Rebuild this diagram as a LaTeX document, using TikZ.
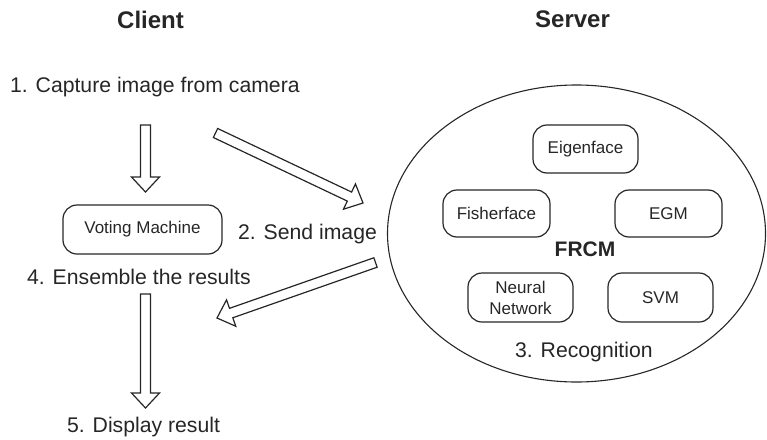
\documentclass[tikz,border=0pt]{standalone}
\usepackage{fontspec}
\setmainfont{Liberation Sans}
\usetikzlibrary{calc,shapes.geometric}
\definecolor{ink}{gray}{0.15}
\tikzset{
  lbl/.style={anchor=base west, inner sep=0pt, text=ink, font=\fontsize{21.2}{25}\selectfont},
  hdr/.style={anchor=base west, inner sep=0pt, text=ink, font=\fontsize{24}{28}\selectfont\bfseries},
  rbox/.style={draw=ink, line width=1.2pt, rounded corners=14pt, inner sep=0pt, align=center,
    text=ink, font=\fontsize{17}{21}\selectfont},
  blk/.style={draw=ink, line width=1.2pt, fill=white, line join=miter,
    to path={let \p1=(\tikztostart), \p2=(\tikztotarget),
      \n1={atan2(\y2-\y1,\x2-\x1)}, \p3=($(\p2)!15pt!(\p1)$) in
      ($(\p1)+(\n1+90:5pt)$) -- ($(\p3)+(\n1+90:5pt)$) -- ($(\p3)+(\n1+90:14pt)$)
      -- (\p2) -- ($(\p3)+(\n1-90:14pt)$) -- ($(\p3)+(\n1-90:5pt)$)
      -- ($(\p1)+(\n1-90:5pt)$) -- cycle}}
}
\begin{document}
\begin{tikzpicture}[x=1pt,y=-1pt]
\useasboundingbox (0,0) rectangle (767,439);
% headers
\node[hdr] (client) at (117,28) {Client};
\node[hdr] (server) at (535,27) {Server};
% client side labels
\node[lbl] (capture) at (10,92) {1. Capture image from camera};
\node[lbl] (send) at (238,239) {2. Send image};
\node[lbl] (ensemble) at (27,284) {4. Ensemble the results};
\node[lbl] (display) at (67,432) {5. Display result};
% voting machine
\node[rbox, minimum width=159pt, minimum height=49pt] (vote) at (142.5,229.5) {Voting Machine};
% server ellipse
\node[ellipse, draw=ink, line width=1.1pt, minimum width=378pt, minimum height=297pt, inner sep=0pt] (frcmell) at (576.5,233.5) {};
\node[anchor=center, inner sep=0pt, text=ink, font=\fontsize{21}{25}\selectfont\bfseries] (frcm) at (585,249) {FRCM};
\node[rbox, minimum width=105pt, minimum height=48pt] (eigen) at (585.5,149) {Eigenface};
\node[rbox, minimum width=107pt, minimum height=47pt] (fisher) at (496.5,213.5) {Fisherface};
\node[rbox, minimum width=107pt, minimum height=47pt] (egm) at (668.5,213.5) {EGM};
\node[rbox, minimum width=105pt, minimum height=49pt] (neural) at (520.5,297.5) {Neural\\Network};
\node[rbox, minimum width=105pt, minimum height=49pt] (svm) at (660.5,297.5) {SVM};
\node[lbl] (recog) at (515,357) {3. Recognition};
% arrow end points
\coordinate (a1t) at (145.5,125);
\coordinate (a1h) at (145.5,192);
\coordinate (a2t) at (215.5,133);
\coordinate (a2h) at (363,203);
\coordinate (a3t) at (375.5,262.5);
\coordinate (a3h) at (217,318);
\coordinate (a4t) at (145.5,294);
\coordinate (a4h) at (145.5,408);
\draw[blk] (a1t) to (a1h);
\draw[blk] (a2t) to (a2h);
\draw[blk] (a3t) to (a3h);
\draw[blk] (a4t) to (a4h);
\end{tikzpicture}
\end{document}
